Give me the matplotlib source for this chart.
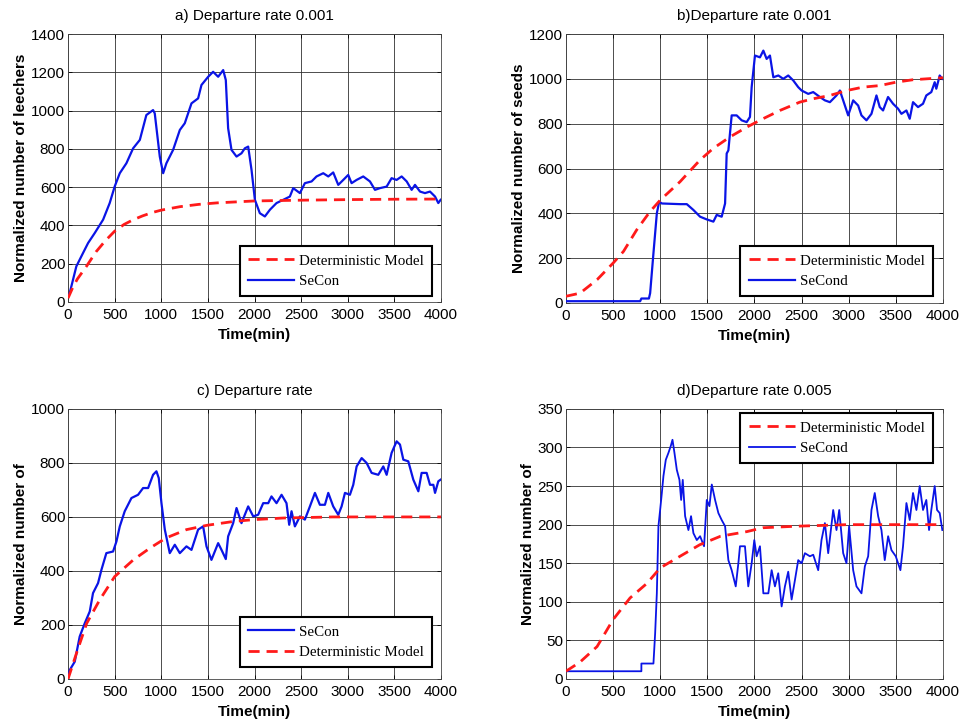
import matplotlib
matplotlib.use("Agg")
import matplotlib.pyplot as plt

# ---------------- data ----------------
# a) leechers, departure rate 0.001
a_det_t = [0, 50, 100, 200, 300, 400, 500, 600, 700, 800, 900, 1000, 1200, 1400, 1600, 1800, 2000, 2500, 3000, 3500, 4000]
a_det_v = [20, 75, 120, 188, 262, 320, 370, 405, 430, 450, 467, 480, 498, 510, 518, 523, 528, 532, 535, 537, 538]
a_sim_t = [0, 18, 89, 161, 215, 286, 376, 447, 500, 555, 626, 698, 770, 840, 912, 930, 984, 1020, 1055, 1127,
           1199, 1252, 1324, 1395, 1431, 1503, 1556, 1610, 1664, 1692, 1717, 1753, 1807, 1860, 1896, 1932, 1968,
           2004, 2057, 2111, 2165, 2236, 2308, 2379, 2415, 2487, 2540, 2612, 2665, 2737, 2791, 2844, 2898, 2952,
           3005, 3041, 3095, 3166, 3238, 3292, 3345, 3417, 3470, 3524, 3578, 3632, 3685, 3721, 3775, 3828, 3882,
           3936, 3971, 3996]
a_sim_v = [30, 47, 186, 256, 308, 360, 430, 517, 603, 673, 725, 803, 847, 977, 1003, 986, 760, 673, 725, 795,
           899, 934, 1038, 1064, 1134, 1177, 1203, 1177, 1212, 1160, 908, 795, 760, 777, 803, 812, 690,
           534, 464, 447, 482, 517, 534, 551, 595, 569, 621, 630, 656, 673, 656, 677, 612, 638,
           664, 621, 638, 656, 630, 586, 595, 603, 647, 638, 656, 630, 586, 612, 577, 569, 577,
           551, 517, 534]

# b) seeds, departure rate 0.001
b_det_t = [0, 150, 330, 500, 610, 750, 890, 1000, 1210, 1420, 1560, 1740, 1920, 2090, 2270, 2480, 2620, 2800, 2980, 3150, 3330, 3500, 3680, 4000]
b_det_v = [30, 44, 104, 178, 230, 326, 407, 459, 541, 637, 689, 741, 785, 822, 859, 896, 911, 926, 948, 963, 970, 985, 996, 1005]
b_sim_t = [0, 787, 800, 880, 893, 928, 964, 989, 1017, 1211, 1282, 1352, 1423, 1493, 1564, 1599, 1652, 1688, 1705,
           1723, 1758, 1811, 1864, 1917, 1952, 1970, 2005, 2058, 2094, 2129, 2164, 2200, 2253, 2305, 2358, 2411,
           2464, 2500, 2570, 2623, 2694, 2747, 2800, 2870, 2906, 2941, 2994, 3047, 3100, 3135, 3188, 3241, 3294,
           3329, 3364, 3417, 3470, 3523, 3559, 3612, 3647, 3682, 3735, 3788, 3823, 3876, 3912, 3929, 3965, 3993]
b_sim_v = [8, 8, 20, 20, 44, 222, 400, 452, 444, 441, 441, 415, 385, 373, 363, 393, 385, 444, 667,
           681, 837, 837, 815, 807, 830, 963, 1104, 1096, 1126, 1089, 1104, 1007, 1015, 1000, 1015, 993,
           963, 948, 933, 941, 919, 904, 896, 926, 948, 904, 837, 904, 881, 837, 815, 844, 926,
           874, 859, 919, 889, 867, 844, 859, 822, 896, 874, 889, 926, 941, 985, 956, 1015, 1000]

# c) departure rate
c_det_t = [0, 100, 200, 340, 500, 700, 880, 1050, 1270, 1490, 1770, 1990, 2310, 2840, 3500, 4000]
c_det_v = [0, 105, 206, 293, 379, 441, 485, 522, 553, 569, 583, 590, 596, 600, 600, 600]
c_sim_t = [0, 18, 72, 125, 179, 233, 268, 322, 358, 411, 483, 519, 555, 608, 680, 751, 805, 859, 912, 948, 973,
           1002, 1038, 1091, 1145, 1199, 1270, 1324, 1395, 1449, 1485, 1538, 1610, 1646, 1692, 1717, 1771, 1807,
           1860, 1932, 1986, 2039, 2093, 2147, 2182, 2236, 2290, 2343, 2372, 2397, 2433, 2487, 2540, 2594, 2648,
           2701, 2755, 2791, 2844, 2898, 2934, 2970, 3023, 3059, 3095, 3149, 3202, 3256, 3327, 3381, 3417, 3470,
           3524, 3560, 3596, 3649, 3703, 3757, 3792, 3846, 3882, 3918, 3936, 3971, 3996]
c_sim_v = [0, 33, 64, 157, 206, 250, 318, 355, 404, 466, 472, 509, 565, 621, 670, 682, 707, 707, 756, 769, 744,
           651, 553, 466, 497, 466, 491, 478, 553, 565, 491, 441, 503, 478, 444, 528, 577, 633,
           577, 639, 602, 608, 651, 651, 676, 651, 682, 651, 571, 621, 565, 602, 590, 639, 689,
           645, 645, 689, 639, 608, 639, 689, 682, 719, 787, 818, 800, 763, 756, 787, 756, 837,
           880, 868, 812, 806, 738, 695, 763, 763, 719, 719, 689, 732, 738]

# d) departure rate 0.005
d_det_t = [0, 150, 330, 500, 680, 860, 1000, 1210, 1420, 1640, 1920, 2090, 2450, 2980, 3500, 4000]
d_det_v = [10, 22, 42, 77, 105, 124, 144, 159, 174, 185, 191, 196, 198, 200, 200, 200]
d_sim_t = [0, 800, 800, 928, 946, 964, 981, 999, 1017, 1034, 1059, 1087, 1112, 1130, 1151, 1176, 1204, 1222, 1239,
           1264, 1299, 1327, 1352, 1388, 1423, 1465, 1494, 1522, 1547, 1582, 1617, 1652, 1688, 1723, 1758, 1801,
           1829, 1846, 1899, 1934, 1970, 1998, 2023, 2058, 2094, 2147, 2182, 2217, 2252, 2288, 2323, 2358, 2394,
           2429, 2464, 2500, 2535, 2588, 2623, 2676, 2711, 2747, 2782, 2835, 2870, 2899, 2941, 2976, 3004, 3047,
           3082, 3135, 3171, 3206, 3241, 3276, 3312, 3347, 3382, 3418, 3453, 3499, 3548, 3576, 3612, 3647, 3682,
           3718, 3753, 3788, 3823, 3852, 3876, 3912, 3937, 3965, 3993]
d_sim_v = [10, 10, 20, 20, 59, 111, 198, 219, 241, 263, 284, 293, 302, 310, 293, 271, 258, 232, 258,
           211, 193, 211, 189, 180, 185, 172, 232, 224, 252, 232, 215, 206, 198, 154, 141, 120,
           150, 172, 172, 120, 150, 180, 159, 172, 111, 111, 141, 120, 137, 94, 120, 139, 103,
           128, 154, 150, 163, 159, 161, 141, 180, 202, 163, 219, 193, 219, 163, 150, 198, 141,
           120, 111, 146, 159, 219, 241, 211, 193, 154, 185, 167, 159, 141, 172, 228, 206, 241,
           219, 250, 219, 232, 193, 219, 250, 219, 215, 193]

titles = ["a) Departure rate 0.001", "b)Departure rate 0.001", "c) Departure rate", "d)Departure rate 0.005"]
ylabels = ["Normalized number of leechers", "Normalized number of seeds",
           "Normalized number of", "Normalized number of"]
ylims = [(0, 1400), (0, 1200), (0, 1000), (0, 350)]
yticks = [list(range(0, 1401, 200)), list(range(0, 1201, 200)), list(range(0, 1001, 200)), list(range(0, 351, 50))]
xticks = list(range(0, 4001, 500))
sim_names = ["SeCon", "SeCond", "SeCon", "SeCond"]
det_name = "Deterministic Model"

# ---------------- plot ----------------
plt.rcParams['font.family'] = ['Liberation Sans', 'DejaVu Sans']
fig = plt.figure(figsize=(9.65, 7.24), dpi=100)

rects = [
    [0.0705, 0.5829, 0.3865, 0.3700],
    [0.5865, 0.5815, 0.3907, 0.3715],
    [0.0705, 0.0622, 0.3865, 0.3730],
    [0.5865, 0.0622, 0.3907, 0.3730],
]
data = [
    (a_det_t, a_det_v, a_sim_t, a_sim_v),
    (b_det_t, b_det_v, b_sim_t, b_sim_v),
    (c_det_t, c_det_v, c_sim_t, c_sim_v),
    (d_det_t, d_det_v, d_sim_t, d_sim_v),
]
legend_cfg = [
    dict(loc='lower right', bbox_to_anchor=(0.976, 0.022), order='ds'),
    dict(loc='lower right', bbox_to_anchor=(0.973, 0.026), order='ds'),
    dict(loc='lower right', bbox_to_anchor=(0.976, 0.044), order='sd'),
    dict(loc='upper right', bbox_to_anchor=(0.973, 0.985), order='ds'),
]
sim_lw = [1.6, 1.6, 1.6, 1.3]

for i in range(4):
    ax = fig.add_axes(rects[i])
    dt, dv, st, sv = data[i]
    hs, = ax.plot(st, sv, color='#0a14e6', lw=sim_lw[i], label=sim_names[i], zorder=3)
    hd, = ax.plot(dt, dv, color='#ff1a1a', lw=2.0, ls=(0, (4, 2.5)), label=det_name, zorder=4)
    ax.set_xlim(0, 4000)
    ax.set_ylim(*ylims[i])
    ax.set_xticks(xticks)
    ax.set_yticks(yticks[i])
    ax.tick_params(direction='in', labelsize=11, length=3, width=0.6, top=True, right=True,
                   labeltop=False, labelright=False)
    ax.tick_params(axis='x', pad=4)
    ax.tick_params(axis='y', pad=2)
    ax.grid(True, color='#303030', lw=0.6, ls='-')
    ax.set_axisbelow(True)
    for s in ax.spines.values():
        s.set_linewidth(0.6)
        s.set_color('#444444')
    ax.set_title(titles[i], fontsize=11, pad=10)
    ax.set_xlabel("Time(min)", fontsize=11, fontweight='bold', labelpad=5)
    ax.set_ylabel(ylabels[i], fontsize=11, fontweight='bold', labelpad=2)
    cfg = legend_cfg[i]
    handles = [hd, hs] if cfg['order'] == 'ds' else [hs, hd]
    leg = ax.legend(handles=handles, labels=[h.get_label() for h in handles],
                    loc=cfg['loc'], bbox_to_anchor=cfg['bbox_to_anchor'], borderaxespad=0,
                    fancybox=False, framealpha=1, edgecolor='black',
                    prop={'family': 'Liberation Serif', 'size': 10.8},
                    handlelength=3.1, handletextpad=0.3, borderpad=0.55, labelspacing=0.45)
    leg.get_frame().set_linewidth(1.5)

fig.savefig("out.png", dpi=100)
